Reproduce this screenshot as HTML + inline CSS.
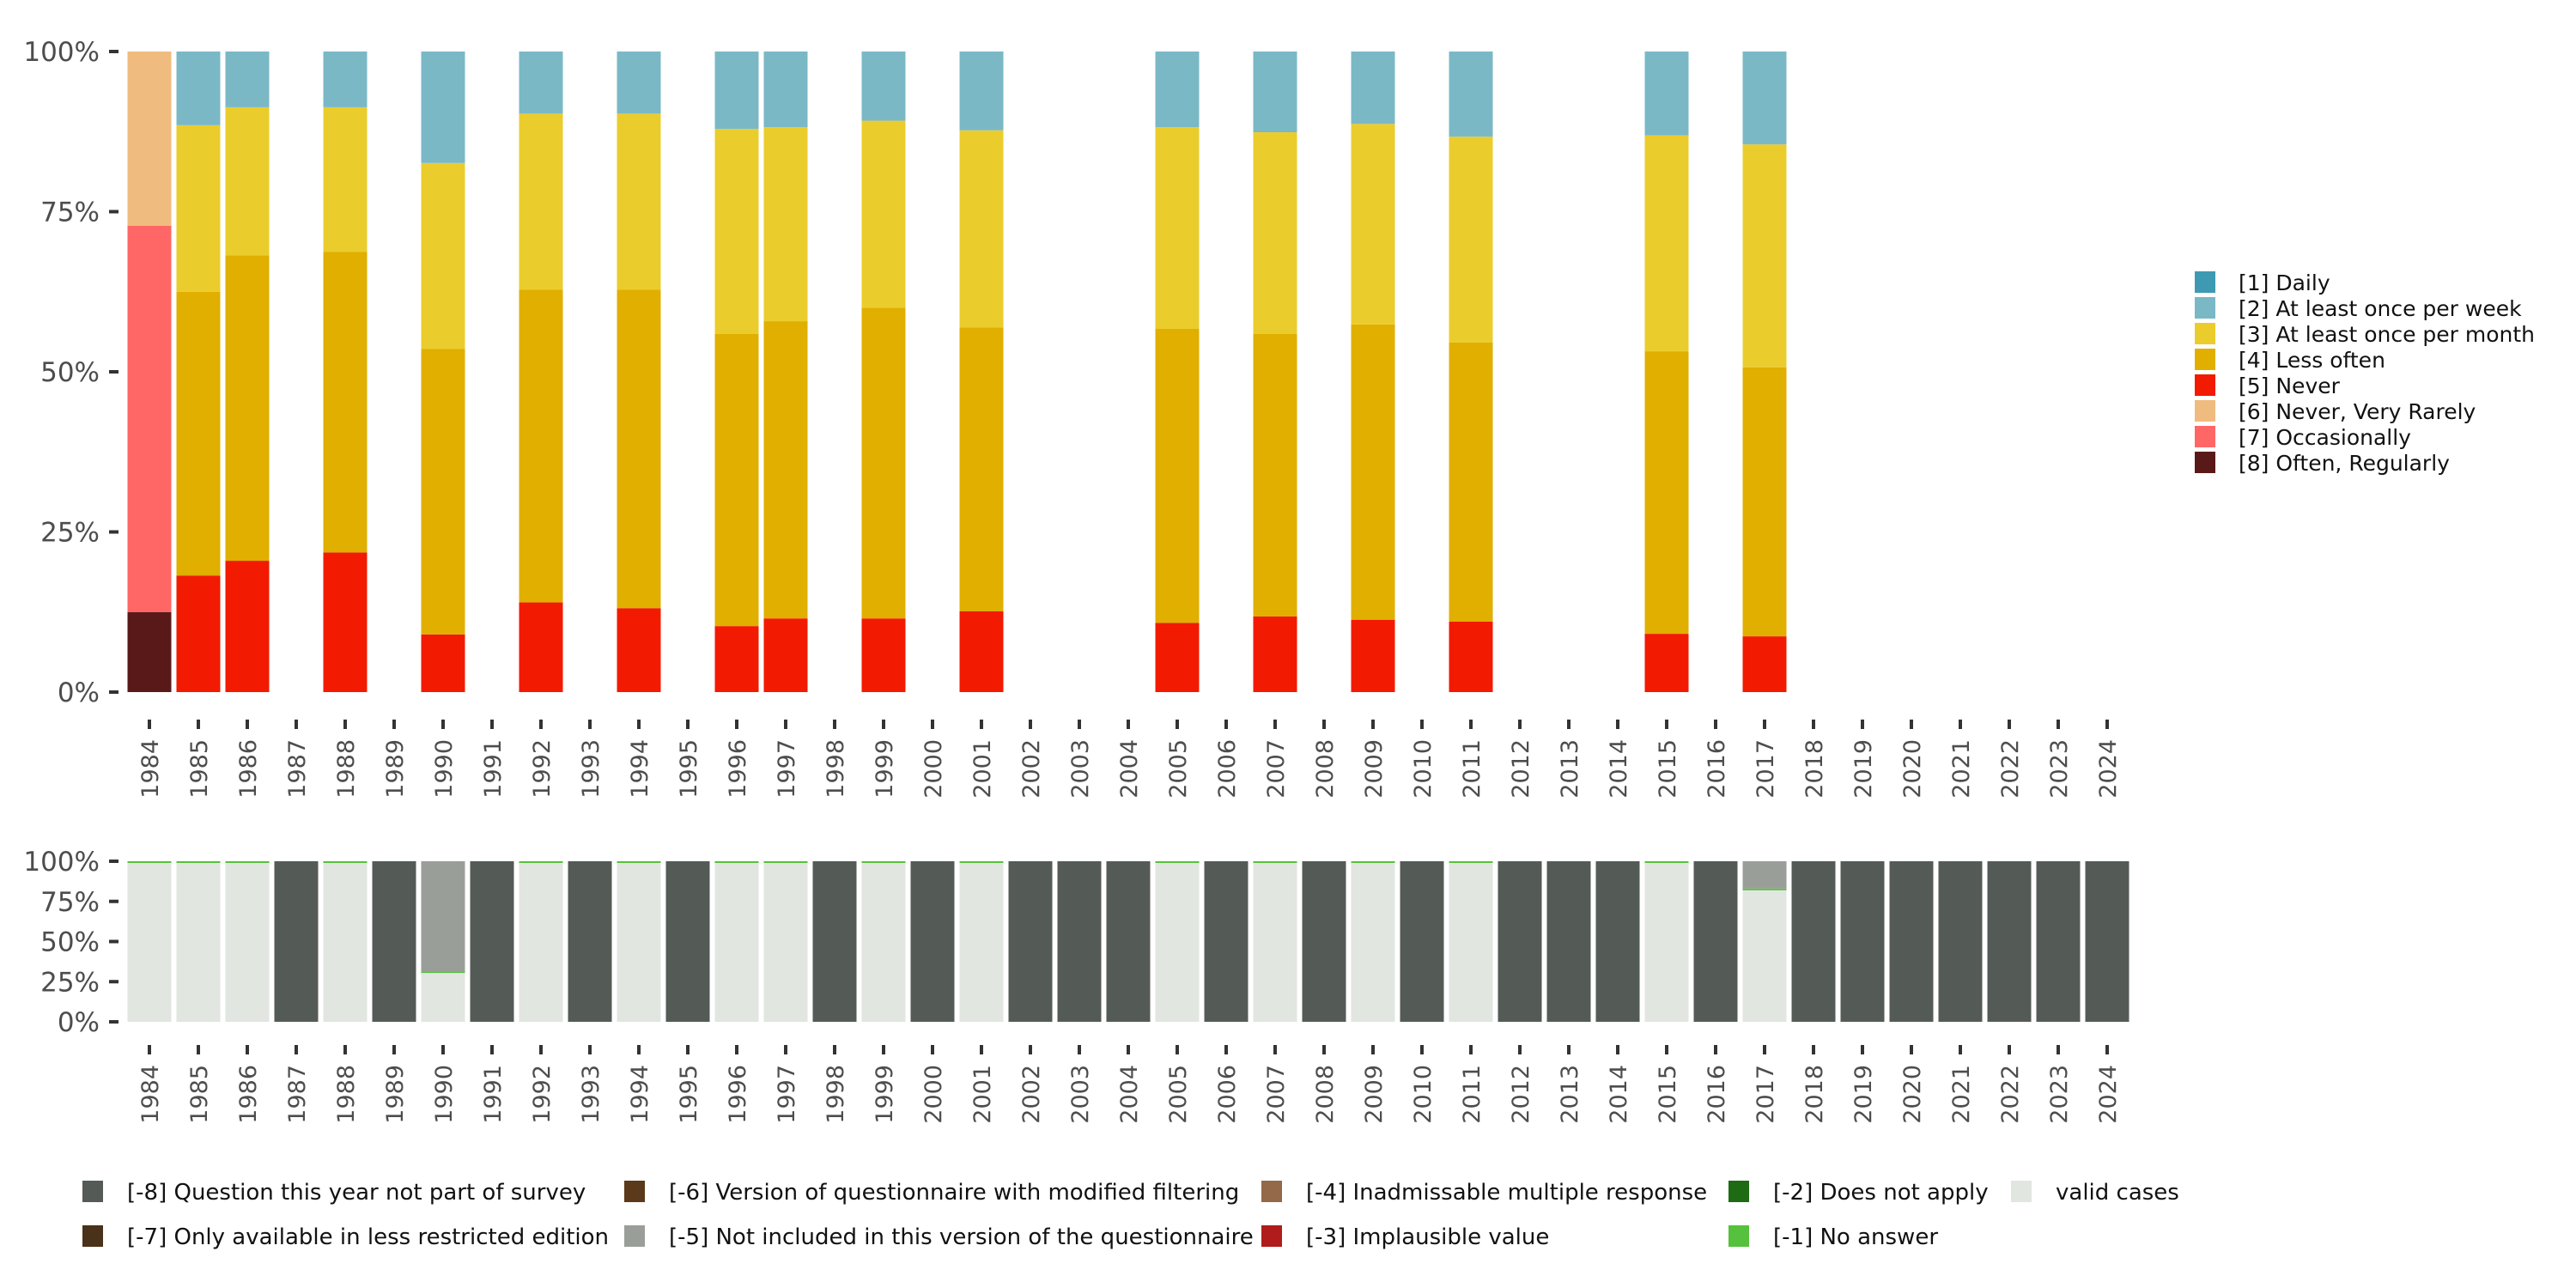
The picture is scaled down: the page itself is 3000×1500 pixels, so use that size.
<!DOCTYPE html>
<html><head><meta charset="utf-8"><style>
body{margin:0;background:#fff}
svg{display:block;font-family:"DejaVu Sans","Liberation Sans",sans-serif}
</style></head><body>
<svg id="c" width="3000" height="1500" viewBox="0 0 3000 1500" xmlns="http://www.w3.org/2000/svg"></svg>
<script>
const years=[];for(let y=1984;y<=2024;y++)years.push(y);
const yTicks=[0,25,50,75,100];
const yTickLabels=["0%","25%","50%","75%","100%"];
// top chart shares per year (percent)
const surveyYears=[1984,1985,1986,1988,1990,1992,1994,1996,1997,1999,2001,2005,2007,2009,2011,2015,2017];
const s8=[12.5,0,0,0,0,0,0,0,0,0,0,0,0,0,0,0,0];
const s7=[60.3,0,0,0,0,0,0,0,0,0,0,0,0,0,0,0,0];
const s6=[27.2,0,0,0,0,0,0,0,0,0,0,0,0,0,0,0,0];
const s5=[0,18.2,20.5,21.8,9,14,13.1,10.3,11.5,11.5,12.6,10.8,11.8,11.3,11,9.1,8.7];
const s4=[0,44.3,47.7,46.9,44.6,48.8,49.7,45.6,46.4,48.5,44.3,45.9,44.1,46.1,43.6,44.1,42];
const s3=[0,26,23.1,22.6,29,27.5,27.5,32,30.3,29.2,30.8,31.5,31.5,31.3,32.1,33.7,34.8];
const s2=[0,11.5,8.7,8.7,17.4,9.7,9.7,12.1,11.8,10.8,12.3,11.8,12.6,11.3,13.3,13.1,14.5];
const s1=[0,0,0,0,0,0,0,0,0,0,0,0,0,0,0,0,0];
// bottom chart (percent), one entry per year 1984..2024
const bValid=[99.5,99.5,99.7,0,99.7,0,31,0,99.5,0,99.7,0,99.7,99.7,0,99.7,0,99.7,0,0,0,99.7,0,99.7,0,99.7,0,99.7,0,0,0,99.7,0,82.8,0,0,0,0,0,0,0];
const bNoAnswer=[0.5,0.5,0.3,0,0.3,0,0.5,0,0.5,0,0.3,0,0.3,0.3,0,0.3,0,0.3,0,0,0,0.3,0,0.3,0,0.3,0,0.3,0,0,0,0.3,0,0.2,0,0,0,0,0,0,0];
const bNotIncl=[0,0,0,0,0,0,68.5,0,0,0,0,0,0,0,0,0,0,0,0,0,0,0,0,0,0,0,0,0,0,0,0,0,0,17,0,0,0,0,0,0,0];
const bNotPart=[0,0,0,100,0,100,0,100,0,100,0,100,0,0,100,0,100,0,100,100,100,0,100,0,100,0,100,0,100,100,100,0,100,0,100,100,100,100,100,100,100];

const NS="http://www.w3.org/2000/svg",svg=document.getElementById('c');
function el(t,a,p){const e=document.createElementNS(NS,t);for(const k in a)e.setAttribute(k,a[k]);(p||svg).appendChild(e);return e;}
const x0=174,pitch=57,bw=51;
const xPos=y=>x0+(y-1984)*pitch;
function axes(yTop,yBot,tickY,labY,pre){
  const yS=v=>yBot-(v/100)*(yBot-yTop);
  yTicks.forEach((v,i)=>{
    const r=el('rect',{x:127,y:yS(v)-2,width:11,height:4,fill:'#333'});
    
    const t=el('text',{x:116,y:yS(v)+11,'text-anchor':'end','font-size':31,fill:'#4d4d4d'});t.textContent=yTickLabels[i];
    
  });
  years.forEach(y=>{
    const r=el('rect',{x:xPos(y)-2,y:tickY,width:4,height:11,fill:'#333'});
    
    const cx=xPos(y)+10;
    const t=el('text',{x:cx,y:labY,'text-anchor':'end','font-size':27,fill:'#4d4d4d',transform:`rotate(-90 ${cx} ${labY})`});t.textContent=y;
    
  });
  return yS;
}
const yT=axes(60,806,838,861,'top');
const topSeries=[[s8,'#5a1919','often'],[s7,'#ff6666','occasionally'],[s6,'#f0bb7e','never-very-rarely'],[s5,'#f21a00','never'],[s4,'#e0af00','less-often'],[s3,'#ebcc2d','monthly'],[s2,'#7ab8c6','weekly'],[s1,'#3d9ab2','daily']];
surveyYears.forEach((y,i)=>{
  let c=0;
  topSeries.forEach(([arr,col,nm])=>{
    const v=arr[i];if(v<=0)return;
    const r=el('rect',{x:xPos(y)-bw/2,y:yT(c+v),width:bw,height:yT(c)-yT(c+v),fill:col});
    
    c+=v;
  });
});
const yB=axes(1003,1190,1217,1240,'bottom');
const botSeries=[[bValid,'#e1e6e1','valid'],[bNoAnswer,'#56c13c','no-answer'],[bNotIncl,'#9a9e98','not-included'],[bNotPart,'#545b56','not-part']];
years.forEach((y,i)=>{
  let c=0;
  botSeries.forEach(([arr,col,nm])=>{
    const v=arr[i];if(v<=0)return;
    const h=Math.max(yB(c)-yB(c+v),nm==='no-answer'?2:0);
    const r=el('rect',{x:xPos(y)-bw/2,y:yB(c+v),width:bw,height:h,fill:col});
    
    c+=v;
  });
});
// right legend
const legR=[["[1] Daily","#3d9ab2"],["[2] At least once per week","#7ab8c6"],["[3] At least once per month","#ebcc2d"],["[4] Less often","#e0af00"],["[5] Never","#f21a00"],["[6] Never, Very Rarely","#f0bb7e"],["[7] Occasionally","#ff6666"],["[8] Often, Regularly","#5a1919"]];
legR.forEach(([l,c],i)=>{
  const g=el('g',{});
  el('rect',{x:2556,y:316+i*30,width:24,height:25,fill:c},g);
  const t=el('text',{x:2607,y:338+i*30,'font-size':25,fill:'#111'},g);t.textContent=l;
});
// bottom legend
const legB=[["[-8] Question this year not part of survey","#545b56",96,1387],["[-7] Only available in less restricted edition","#4a3119",96,1439],
["[-6] Version of questionnaire with modified filtering","#5a3a1a",727,1387],["[-5] Not included in this version of the questionnaire","#9a9e98",727,1439],
["[-4] Inadmissable multiple response","#93694a",1469,1387],["[-3] Implausible value","#b01c1c",1469,1439],
["[-2] Does not apply","#1e6b14",2013,1387],["[-1] No answer","#56c13c",2013,1439],["valid cases","#e1e6e1",2342,1387]];
legB.forEach(([l,c,x,y])=>{
  const g=el('g',{});
  el('rect',{x:x,y:y-12,width:24,height:25,fill:c},g);
  const t=el('text',{x:x+52,y:y+10,'font-size':26,fill:'#111'},g);t.textContent=l;
});
</script>
</body></html>
